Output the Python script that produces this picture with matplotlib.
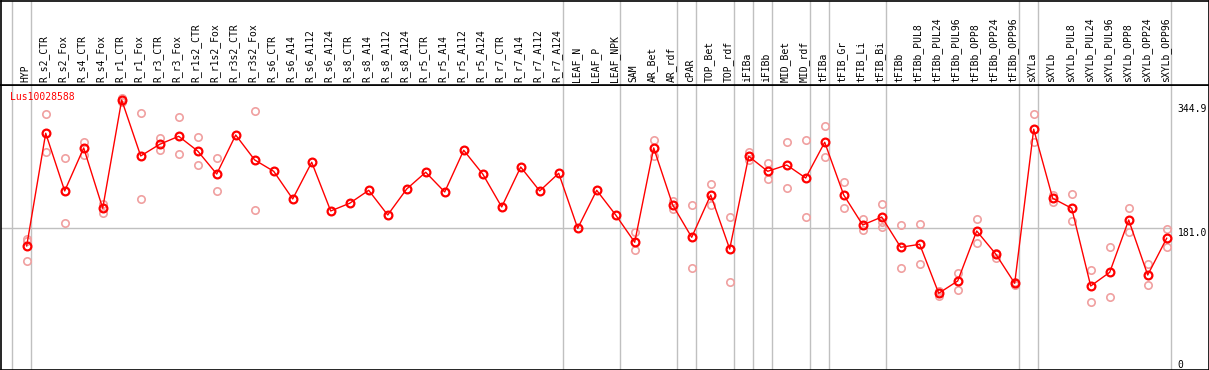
import numpy as np
import matplotlib
matplotlib.use("Agg")
import matplotlib.pyplot as plt

plt.rcParams["font.family"] = ["DejaVu Sans Mono"]
plt.rcParams["font.size"] = 7

gene = "Lus10028588"

samples = ["HYP",
           "R_s2_CTR", "R_s2_Fox", "R_s4_CTR", "R_s4_Fox", "R_r1_CTR", "R_r1_Fox",
           "R_r3_CTR", "R_r3_Fox", "R_r1s2_CTR", "R_r1s2_Fox", "R_r3s2_CTR", "R_r3s2_Fox",
           "R_s6_CTR", "R_s6_A14", "R_s6_A112", "R_s6_A124",
           "R_s8_CTR", "R_s8_A14", "R_s8_A112", "R_s8_A124",
           "R_r5_CTR", "R_r5_A14", "R_r5_A112", "R_r5_A124",
           "R_r7_CTR", "R_r7_A14", "R_r7_A112", "R_r7_A124",
           "LEAF_N", "LEAF_P", "LEAF_NPK",
           "SAM", "AR_Bet", "AR_rdf", "cPAR", "TOP_Bet", "TOP_rdf",
           "iFIBa", "iFIBb", "MID_Bet", "MID_rdf", "tFIBa",
           "tFIB_Gr", "tFIB_Li", "tFIB_Bi",
           "tFIBb", "tFIBb_PUL8", "tFIBb_PUL24", "tFIBb_PUL96",
           "tFIBb_OPP8", "tFIBb_OPP24", "tFIBb_OPP96",
           "sXYLa",
           "sXYLb", "sXYLb_PUL8", "sXYLb_PUL24", "sXYLb_PUL96",
           "sXYLb_OPP8", "sXYLb_OPP24", "sXYLb_OPP96"]

mean = [156.7,
        311.6, 232.3, 291.4, 208.5, 357.3, 280.4,
        296.4, 307.4, 287.2, 255.6, 309.2, 274.9,
        259.3, 221.3, 271.7, 204.8,
        215.4, 233.2, 199.3, 235.0,
        258.0, 230.9, 288.2, 255.6,
        210.3, 265.2, 232.3, 256.6,
        181.0, 233.2, 199.3,
        161.8, 291.4, 213.0, 168.6, 226.8, 152.5,
        279.9, 259.3, 268.0, 250.1, 299.2,
        226.8, 185.5, 196.5,
        154.9, 159.0, 91.7, 108.6,
        177.3, 145.7, 105.4,
        317.1,
        222.2, 208.5, 101.7, 120.5,
        192.4, 116.8, 167.3]

nan = np.nan
rep1 = [165.9,
        337.7, 277.2, 299.6, 214.0, 360.5, 339.0,
        304.7, 333.5, 306.1, 277.2, nan, 341.8,
        nan, nan, nan, nan,
        nan, nan, nan, nan,
        nan, nan, nan, nan,
        nan, nan, nan, nan,
        nan, nan, nan,
        176.3, 301.9, 218.5, 213.0, 241.5, 196.1,
        286.3, 270.3, 299.2, 301.9, 321.2,
        245.0, 193.4, 214.0,
        185.5, 186.9, 94.8, 119.2,
        193.4, 147.5, 107.6,
        337.7,
        226.8, 227.7, 123.7, 154.9,
        208.5, 131.5, 179.6]

rep2 = [163.5,
        285.4, 188.7, 281.7, 202.4, 354.2, 220.8,
        288.6, 282.7, 267.6, 231.8, nan, 205.7,
        nan, nan, nan, nan,
        nan, nan, nan, nan,
        nan, nan, nan, nan,
        nan, nan, nan, nan,
        nan, nan, nan,
        151.2, 279.9, 207.5, 126.4, 213.0, 107.2,
        274.9, 248.3, 236.0, 196.1, 279.0,
        208.5, 178.7, 189.7,
        126.8, 131.5, 88.4, 95.8,
        160.4, 140.6, 103.1,
        299.2,
        217.6, 191.0, 79.3, 86.6,
        176.3, 103.1, 155.7]

rep3 = [nan] * len(samples)
rep3[0] = 136.5
rep3[45] = 183.2

# column index after which a grey separator is drawn
group_ends = [-1, 0, 28, 31, 34, 35, 37, 38, 39, 41, 42, 45, 52, 53, 60]

yticks = [0, 181.0, 344.9]

red = "#FF0000"
pale = "#F0A0A0"
grey = "#C0C0C0"

W, H = 1209, 370
fig = plt.figure(figsize=(W / 100, H / 100), dpi=100)
ax = fig.add_axes([0.5 / W, 0.5 / H, 1208 / W, 284.5 / H])
hx = fig.add_axes([0.5 / W, 285 / H, 1208 / W, 84.5 / H], sharex=ax)

x = np.arange(len(samples))
ax.set_xlim(-1.379, 62.2)
ax.set_ylim(-13.06, 377.9)
hx.set_ylim(0, 1)

for a in (ax, hx):
    for s in a.spines.values():
        s.set_color("black")
        s.set_linewidth(1.2)
    a.set_xticks([])
    a.set_yticks([])
    for k in group_ends:
        a.axvline(k + 0.21, color=grey, lw=1, zorder=1)

ax.plot([-1.379, group_ends[-1] + 0.21], [181.0, 181.0], color=grey, lw=1, zorder=1)

for r in (rep1, rep2, rep3):
    ax.plot(x, r, "o", ls="none", ms=5.3, mfc="none", mec=pale, mew=1.2, zorder=2)

ax.plot(x, mean, "-", color=red, lw=1, zorder=3)
ax.plot(x, mean, "o", ls="none", ms=5.6, mfc="none", mec=red, mew=1.6, zorder=4)

for i, name in enumerate(samples):
    hx.text(i - 0.08, 0.03, name, rotation=90, ha="center", va="bottom", fontsize=7)

tr = ax.get_yaxis_transform()
for v in yticks:
    va = "center" if v == yticks[-1] else "top"
    ax.text(0.9745, v, f"{v:.1f}" if v else "0", transform=tr, ha="left", va=va, fontsize=7)

ax.text(0.0079, 0.958, gene, transform=ax.transAxes, color=red, ha="left", va="center", fontsize=7)

fig.savefig("out.png", dpi=100)
